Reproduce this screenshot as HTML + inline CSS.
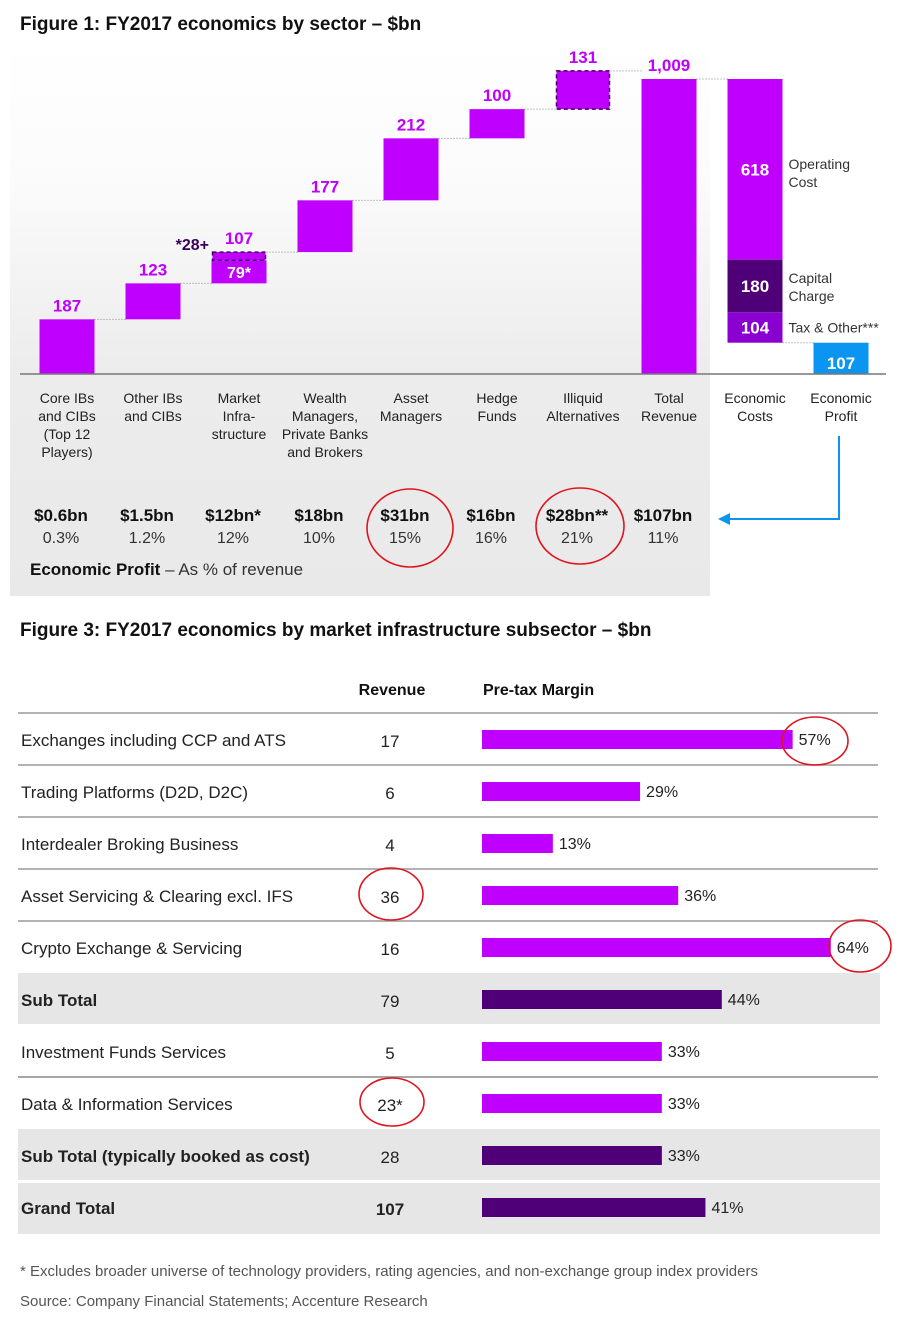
<!DOCTYPE html>
<html><head><meta charset="utf-8"><style>
body{margin:0;background:#fff;}
svg{display:block;font-family:"Liberation Sans",sans-serif;}
</style></head><body>
<svg id="c" width="912" height="1330" viewBox="0 0 912 1330">
<defs>
<linearGradient id="pg" x1="0" y1="0" x2="0" y2="1">
<stop offset="0" stop-color="#ffffff"/><stop offset="0.25" stop-color="#fbfbfb"/><stop offset="0.6" stop-color="#ececec"/><stop offset="1" stop-color="#e9e9ea"/>
</linearGradient>
</defs>
<text x="20" y="30" font-size="19" font-weight="bold" fill="#111">Figure 1: FY2017 economics by sector – $bn</text>
<rect x="10" y="42" width="700" height="554" fill="url(#pg)"/>
<g id="wf"></g>
<text x="20" y="636" font-size="19" font-weight="bold" fill="#111">Figure 3: FY2017 economics by market infrastructure subsector – $bn</text>
<g id="tb"></g>
<text x="20" y="1276" font-size="15" fill="#555">* Excludes broader universe of technology providers, rating agencies, and non-exchange group index providers</text>
<text x="20" y="1306" font-size="15" fill="#555">Source: Company Financial Statements; Accenture Research</text>
</svg>
<script>
// Figure 1 data
const categories = [["Core IBs","and CIBs","(Top 12","Players)"],["Other IBs","and CIBs"],["Market","Infra-","structure"],["Wealth","Managers,","Private Banks","and Brokers"],["Asset","Managers"],["Hedge","Funds"],["Illiquid","Alternatives"],["Total","Revenue"]];
const revenueValues = [187,123,79,177,212,100,0,0];
const dashedValues = [0,0,28,0,0,0,131,0];
const valueLabels = ["187","123","107","177","212","100","131","1,009"];
const totalRevenue = 1009;
const costValues = [618,180,104];
const costLabels = ["Operating|Cost","Capital|Charge","Tax & Other***"];
const economicProfit = 107;
const profitAmounts = ["$0.6bn","$1.5bn","$12bn*","$18bn","$31bn","$16bn","$28bn**","$107bn"];
const profitPercents = ["0.3%","1.2%","12%","10%","15%","16%","21%","11%"];
// Figure 3 data
const rowNames = ["Exchanges including CCP and ATS","Trading Platforms (D2D, D2C)","Interdealer Broking Business","Asset Servicing & Clearing excl. IFS","Crypto Exchange & Servicing","Sub Total","Investment Funds Services","Data & Information Services","Sub Total (typically booked as cost)","Grand Total"];
const rowRevenue = ["17","6","4","36","16","79","5","23*","28","107"];
const rowMargin = [57,29,13,36,64,44,33,33,33,41];
const rowIsTotal = [false,false,false,false,false,true,false,false,true,true];

const NS="http://www.w3.org/2000/svg";
function mk(p,tag,attrs,txt){const e=document.createElementNS(NS,tag);for(const k in attrs)e.setAttribute(k,attrs[k]);if(txt!==undefined)e.textContent=txt;p.appendChild(e);return e;}
const PURPLE="#bf00ff",DARK="#4f0079",MID="#8a00d0",BLUE="#0a96f0";
const baseY=374, topY=79;
const yS=v=>baseY-(v/totalRevenue)*(baseY-topY);
const xc=i=>67+i*86;
const bw=55;
const wf=document.getElementById('wf');
let cum=0;
for(let i=0;i<categories.length;i++){
  const cx=xc(i);
  let lo,hi;
  if(i===categories.length-1){
    const r=mk(wf,'rect',{x:cx-bw/2,y:yS(totalRevenue),width:bw,height:baseY-yS(totalRevenue),fill:PURPLE});
    
    hi=totalRevenue;
  } else {
    lo=cum; hi=cum+revenueValues[i];
    if(revenueValues[i]>0){
      const r=mk(wf,'rect',{x:cx-bw/2,y:yS(hi),width:bw,height:yS(lo)-yS(hi),fill:PURPLE});
      
      
    }
    if(dashedValues[i]>0){
      const d0=hi,d1=hi+dashedValues[i];
      const r=mk(wf,'rect',{x:cx-bw/2+1,y:yS(d1),width:bw-2,height:yS(d0)-yS(d1),fill:PURPLE,stroke:"#3a0058","stroke-width":1.5,"stroke-dasharray":"4 3"});
      
      
      hi=d1;
    }
    cum=hi;
  }
  const lt=mk(wf,'text',{x:cx,y:yS(hi)-8,"font-size":17,"font-weight":"bold",fill:PURPLE,"text-anchor":"middle"},valueLabels[i]);
  
  if(i<categories.length-1){
    const ln=mk(wf,'line',{x1:cx+bw/2,x2:xc(i+1)-bw/2,y1:yS(hi),y2:yS(hi),stroke:"#888","stroke-dasharray":"1 2"});
    
  }
  categories[i].forEach((t,k)=>{const e=mk(wf,'text',{x:cx,y:403+k*18,"font-size":14,fill:"#222","text-anchor":"middle"},t);
    });
  const pa=mk(wf,'text',{x:cx-6,y:521,"font-size":17,"font-weight":"bold",fill:"#111","text-anchor":"middle"},profitAmounts[i]);
  
  const pp=mk(wf,'text',{x:cx-6,y:543,"font-size":16,fill:"#333","text-anchor":"middle"},profitPercents[i]);
  
}
{const cx=xc(2);const lo=187+123;
 const t=mk(wf,'text',{x:cx,y:yS(lo+revenueValues[2]/2)+6,"font-size":16,"font-weight":"bold",fill:"#fff","text-anchor":"middle"},"79*");
 
 const t2=mk(wf,'text',{x:cx-30,y:yS(lo+revenueValues[2]+dashedValues[2])-2,"font-size":16,"font-weight":"bold",fill:"#3a0058","text-anchor":"end"},"*28+");
 }
{const cx=xc(8);let c=totalRevenue;const cols=[PURPLE,DARK,MID];
 const ln=mk(wf,'line',{x1:xc(7)+bw/2,x2:cx-bw/2,y1:yS(totalRevenue),y2:yS(totalRevenue),stroke:"#888","stroke-dasharray":"1 2"});
 
 costValues.forEach((v,k)=>{const t0=yS(c),t1=yS(c-v);
  const r=mk(wf,'rect',{x:cx-bw/2,y:t0,width:bw,height:t1-t0,fill:cols[k]});
  
  const tl=mk(wf,'text',{x:cx,y:(t0+t1)/2+6,"font-size":17,"font-weight":"bold",fill:"#fff","text-anchor":"middle"},String(v));
  
  const parts=costLabels[k].split('|');
  parts.forEach((p,j)=>{const e=mk(wf,'text',{x:cx+bw/2+6,y:(parts.length>1?(k==0?t0+90:(t0+t1)/2-3):(t0+t1)/2+5)+j*18,"font-size":14,fill:"#333"},p);
   });
  c-=v;});
 const pcx=xc(9);
 const ln2=mk(wf,'line',{x1:cx+bw/2,x2:pcx-bw/2,y1:yS(economicProfit),y2:yS(economicProfit),stroke:"#888","stroke-dasharray":"1 2"});
 
 const r=mk(wf,'rect',{x:pcx-bw/2,y:yS(economicProfit),width:bw,height:baseY-yS(economicProfit),fill:BLUE});
 
 const t=mk(wf,'text',{x:pcx,y:baseY-5,"font-size":17,"font-weight":"bold",fill:"#fff","text-anchor":"middle"},String(economicProfit));
 
 [["Economic","Costs",cx],["Economic","Profit",pcx]].forEach(a=>{[0,1].forEach(j=>{const e=mk(wf,'text',{x:a[2],y:403+j*18,"font-size":14,fill:"#222","text-anchor":"middle"},a[j]);
  });});
}
{const bl=mk(wf,'line',{x1:20,x2:886,y1:baseY,y2:baseY,stroke:"#777","stroke-width":1.5});
 
 const a=mk(wf,'path',{d:"M839 436 V519 H726",fill:"none",stroke:BLUE,"stroke-width":2});
 
 const h=mk(wf,'path',{d:"M718 519 L730 513 L730 525 Z",fill:BLUE});
 
 const e1=mk(wf,'ellipse',{cx:410,cy:528,rx:43,ry:39,fill:"none",stroke:"#e0141e","stroke-width":1.6});
 
 const e2=mk(wf,'ellipse',{cx:580,cy:526,rx:44,ry:38,fill:"none",stroke:"#e0141e","stroke-width":1.6});
 
 const ep=mk(wf,'text',{x:30,y:575,"font-size":17,fill:"#333"});
 
 mk(ep,'tspan',{"font-weight":"bold",fill:"#111"},"Economic Profit");mk(ep,'tspan',{},"  – As % of revenue");
}
const tb=document.getElementById('tb');
{const h1=mk(tb,'text',{x:392,y:695,"font-size":16,"font-weight":"bold",fill:"#111","text-anchor":"middle"},"Revenue");
 
 const h2=mk(tb,'text',{x:483,y:695,"font-size":16,"font-weight":"bold",fill:"#111"},"Pre-tax Margin");
 }
const mx=v=>482+v*5.45;
rowNames.forEach((n,i)=>{
  const r0=713+i*52, cy=r0+27;
  if(rowIsTotal[i]){const g=mk(tb,'rect',{x:18,y:r0+(i==9?2:0),width:862,height:51,fill:"#e6e6e6"});
    }
  if(!rowIsTotal[i] && (i==0||!rowIsTotal[i-1])){const l=mk(tb,'line',{x1:18,x2:878,y1:r0,y2:r0,stroke:"#999","stroke-width":1.5});
    }
  const t=mk(tb,'text',{x:21,y:cy+6,"font-size":17,fill:"#222","font-weight":rowIsTotal[i]?"bold":"normal"},n);
  
  const rv=mk(tb,'text',{x:390,y:cy+7,"font-size":17,fill:"#222","text-anchor":"middle","font-weight":i==9?"bold":"normal"},rowRevenue[i]);
  
  const b=mk(tb,'rect',{x:482,y:cy-10,width:mx(rowMargin[i])-482,height:19,fill:rowIsTotal[i]?DARK:PURPLE});
  
  const mt=mk(tb,'text',{x:mx(rowMargin[i])+6,y:cy+5,"font-size":16,fill:"#222"},rowMargin[i]+"%");
  
});
{const l=mk(tb,'line',{x1:18,x2:878,y1:1077,y2:1077,stroke:"#999","stroke-width":1.5});
 
 [[815,741,33,24],[860,946,31,26],[391,894,32,26],[392,1102,32,24]].forEach(c=>{
  const e=mk(tb,'ellipse',{cx:c[0],cy:c[1],rx:c[2],ry:c[3],fill:"none",stroke:"#e0141e","stroke-width":1.6});
  });}
</script>
</body></html>
